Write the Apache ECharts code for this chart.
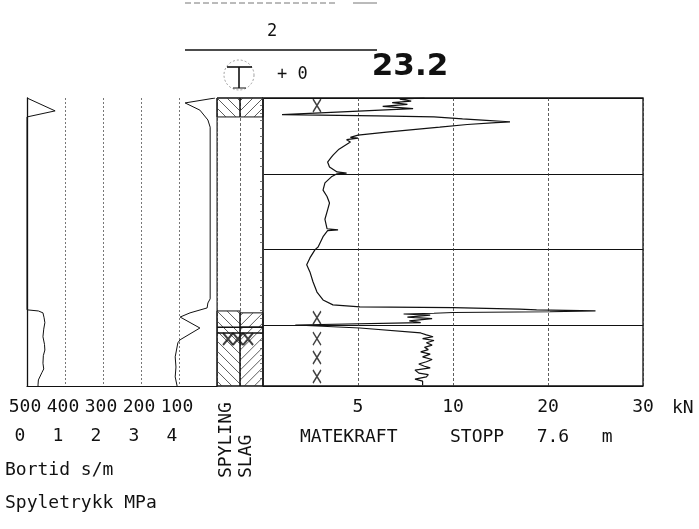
<!DOCTYPE html>
<html><head><meta charset="utf-8">
<script src="https://cdn.jsdelivr.net/npm/echarts@6/dist/echarts.min.js"></script>
<style>html,body{margin:0;padding:0;background:#fff}#c{width:699px;height:529px}</style>
</head><body><div id="c"></div>
<script>
// ---------- data ----------
const depthMax = 7.6;
const forceDepth = [0,0.03,0.08,0.12,0.17,0.22,0.28,0.32,0.44,0.47,0.5,0.55,0.59,0.62,0.63,0.65,0.7,0.77,0.9,0.98,1.04,1.06,1.1,1.16,1.35,1.5,1.56,1.69,1.82,1.95,1.98,2.0,2.08,2.24,2.43,2.6,2.77,2.95,3.2,3.45,3.48,3.5,3.66,3.93,4.0,4.22,4.4,4.59,4.85,5.12,5.33,5.46,5.51,5.53,5.57,5.59,5.62,5.64,5.66,5.68,5.7,5.73,5.78,5.82,5.88,5.93,5.99,6.07,6.2,6.25,6.3,6.35,6.4,6.46,6.52,6.58,6.64,6.7,6.76,6.83,6.9,6.96,7.02,7.08,7.12,7.18,7.26,7.3,7.36,7.42,7.47,7.52,7.58];
const forceKN =    [8.5,7.2,7.8,6.8,7.6,6.3,7.9,7.8,1.0,6.0,9.0,11,13.5,15.5,16,14.5,11.5,9.3,6.5,5.0,4.6,5.0,4.4,4.6,4.0,3.7,3.6,3.4,3.5,3.9,4.4,3.9,3.6,3.26,3.16,3.37,3.5,3.4,3.26,3.37,3.95,3.4,3.16,2.9,2.74,2.47,2.3,2.47,2.63,2.84,3.16,3.68,5.1,10,17,18.8,25,20.2,10,9.0,7.4,8.8,7.6,8.9,7.7,8.3,1.7,5.1,8.3,8.6,8.95,8.4,9.0,8.6,8.9,8.5,8.7,8.3,8.8,8.4,8.9,8.6,8.2,8.5,8.8,8.0,8.2,8.7,8.6,8.0,8.4,8.3,8.4];
const bortidDepth = [0,0.13,0.32,0.58,0.77,5.3,5.41,5.54,5.67,5.78,6.07,6.38,6.46,6.83,7.1,7.36,7.6];
const bortidSec =   [5,84,45,24,18,18,24,26,71,97,45,97,103,110,108,110,105];
const pressDepth = [0,0.34,0.5,5.59,5.62,5.67,5.8,5.93,6.1,6.3,6.5,6.65,6.8,7.0,7.15,7.25,7.44,7.57,7.6];
const pressMPa =   [0,0.74,0,0,0.3,0.42,0.45,0.47,0.44,0.42,0.46,0.47,0.43,0.42,0.44,0.39,0.3,0.29,0.29];
const markDepth = [0.2, 5.8, 6.35, 6.85, 7.35];
const markForce = 2.84;
const rotDepth = 6.36;
const rotCols = [0.48, 0.91, 1.35];
const spylingIntervals = [[0,0.5],[5.62,7.6]];
const slagIntervals = [[0,0.5],[5.67,6.05],[6.05,7.6]];
const rotBand = [6.2, 7.6];
const forceTicks = [0,5,10,20,30];
const bortidTicks = [500,400,300,200,100];
const pressTicks = [0,1,2,3,4];
const stopDepth = '7.6';

// ---------- helpers ----------
function fx(f){
  for(let i=0;i<forceTicks.length-1;i++){
    if(f<=forceTicks[i+1]) return i+(f-forceTicks[i])/(forceTicks[i+1]-forceTicks[i]);
  }
  return forceTicks.length-1;
}
const MONO = '"DejaVu Sans Mono", monospace';
const INK = '#111';
const FS = 18;
const lbl = {fontFamily:MONO,fontSize:FS,color:INK};

const chart = echarts.init(document.getElementById('c'),null,{renderer:'canvas'});

const hatchData = [];
spylingIntervals.forEach(iv=>hatchData.push([0,iv[0],iv[1],-1]));
slagIntervals.forEach(iv=>hatchData.push([1,iv[0],iv[1],1]));

function hatchItem(params, api){
  const col=api.value(0), d0=api.value(1), d1=api.value(2), dir=api.value(3);
  const p0=api.coord([col,d0]), p1=api.coord([col+1,d1]);
  const x0=p0[0], y0=p0[1], x1=p1[0], y1=p1[1];
  const ch=[{type:'rect',shape:{x:x0,y:y0,width:x1-x0,height:y1-y0},style:{fill:null,stroke:INK,lineWidth:1}}];
  const s=10;
  if(dir<0){
    const cStart=y0-x0;
    for(let c=cStart-Math.ceil((x1-x0)/s)*s;c<=y1-x0;c+=s){
      const xa=Math.max(x0,y0-c), xb=Math.min(x1,y1-c);
      if(xb-xa>0.5) ch.push({type:'line',shape:{x1:xa,y1:xa+c,x2:xb,y2:xb+c},style:{stroke:'#333',lineWidth:0.8}});
    }
  } else {
    const cStart=x1+y0;
    for(let c=cStart-Math.ceil((x1-x0)/s)*s;c<=x1+y1;c+=s){
      const xa=Math.max(x0,c-y1), xb=Math.min(x1,c-y0);
      if(xb-xa>0.5) ch.push({type:'line',shape:{x1:xa,y1:c-xa,x2:xb,y2:c-xb},style:{stroke:'#333',lineWidth:0.8}});
    }
  }
  return {type:'group',children:ch};
}

function bandItem(params, api){
  const p0=api.coord([0,api.value(0)]);
  const p1=api.coord([2,api.value(0)]);
  return {type:'line',shape:{x1:p0[0],y1:p0[1],x2:p1[0],y2:p1[1]},style:{stroke:INK,lineWidth:1.4}};
}

const yBase = {type:'value',min:0,max:depthMax,inverse:true,axisLabel:{show:false},axisTick:{show:false},splitLine:{show:false}};
const X_PATH = 'path://M0,0L10,14M10,0L0,14';

const option = {
  animation:false,
  backgroundColor:'#fff',
  grid:[
    {left:27,top:98,width:190,height:288,show:false},
    {left:217,top:98,width:46,height:288,show:true,borderColor:INK,borderWidth:1},
    {left:263,top:98,width:380,height:288,show:true,borderColor:INK,borderWidth:1.3}
  ],
  xAxis:[
    {gridIndex:0,type:'value',min:0,max:500,interval:100,inverse:true,position:'bottom',
     axisLine:{show:true,onZero:false,lineStyle:{color:INK,width:1.2}},axisTick:{show:false},
     axisLabel:Object.assign({margin:12,padding:[0,4,0,0],formatter:v=>bortidTicks.includes(v)?String(v):''},lbl),
     splitLine:{show:true,lineStyle:{color:'#555',width:0.8,type:[2,2]}}},
    {gridIndex:0,type:'value',min:0,max:5,interval:1,position:'bottom',offset:29,
     axisLine:{show:false,onZero:false},axisTick:{show:false},
     axisLabel:Object.assign({margin:12,padding:[0,14,0,0],formatter:v=>pressTicks.includes(v)?String(v):''},lbl),
     splitLine:{show:false}},
    {gridIndex:1,type:'value',min:0,max:2,interval:1,
     axisLine:{show:false,onZero:false},axisTick:{show:false},axisLabel:{show:false},
     splitLine:{show:true,lineStyle:{color:'#444',width:0.8,type:[3,2]}}},
    {gridIndex:2,type:'value',min:0,max:forceTicks.length-1,interval:1,position:'bottom',
     axisLine:{show:false,onZero:false},axisTick:{show:false},
     axisLabel:Object.assign({margin:12,formatter:v=>v>0?String(forceTicks[Math.round(v)]):''},lbl),
     splitLine:{show:true,lineStyle:{color:'#333',width:0.8,type:[3,2]}}}
  ],
  yAxis:[
    Object.assign({},yBase,{gridIndex:0,axisLine:{show:true,onZero:false,lineStyle:{color:INK,width:1.3}}}),
    Object.assign({},yBase,{gridIndex:1,axisLine:{show:false,onZero:false}}),
    Object.assign({},yBase,{gridIndex:2,interval:2,axisLine:{show:false,onZero:false},
      axisTick:{show:false},minorTick:{show:true,splitNumber:10,length:3,lineStyle:{color:'#555',width:0.8}},
      splitLine:{show:true,lineStyle:{color:INK,width:1.2}}})
  ],
  series:[
    {type:'custom',xAxisIndex:2,yAxisIndex:1,renderItem:hatchItem,data:hatchData,silent:true,z:2},
    {type:'custom',xAxisIndex:2,yAxisIndex:1,renderItem:bandItem,data:[[rotBand[0]],[6.05]],silent:true,z:3},
    {type:'scatter',xAxisIndex:2,yAxisIndex:1,symbol:X_PATH,symbolSize:[10,12],
     itemStyle:{color:'transparent',borderColor:INK,borderWidth:2.2},
     data:rotCols.map(c=>[c,rotDepth]),z:4},
    {type:'line',xAxisIndex:0,yAxisIndex:0,symbol:'none',lineStyle:{color:INK,width:1},
     data:bortidSec.map((v,i)=>[v,bortidDepth[i]]),z:5},
    {type:'line',xAxisIndex:1,yAxisIndex:0,symbol:'none',lineStyle:{color:INK,width:1},
     data:pressMPa.map((v,i)=>[v,pressDepth[i]]),z:5},
    {type:'line',xAxisIndex:3,yAxisIndex:2,symbol:'none',lineStyle:{color:INK,width:1.2},
     data:forceKN.map((f,i)=>[fx(f),forceDepth[i]]),z:5},
    {type:'scatter',xAxisIndex:3,yAxisIndex:2,symbol:X_PATH,symbolSize:[8,13],
     itemStyle:{color:'transparent',borderColor:INK,borderWidth:1.6},
     data:markDepth.map(d=>[fx(markForce),d]),z:6}
  ],
  graphic:[
    {type:'line',shape:{x1:185,y1:3,x2:337,y2:3},style:{stroke:'#777',lineWidth:1,lineDash:[6,3]}},
    {type:'line',shape:{x1:353,y1:3,x2:377,y2:3},style:{stroke:'#777',lineWidth:1}},
    {type:'text',x:272,y:32,style:{text:'2',font:'17px '+MONO,fill:INK,align:'center',verticalAlign:'middle'}},
    {type:'line',shape:{x1:185,y1:50,x2:377,y2:50},style:{stroke:INK,lineWidth:1.5}},
    {type:'circle',shape:{cx:239,cy:75,r:15},style:{fill:null,stroke:'#888',lineWidth:0.8,lineDash:[2,2]}},
    {type:'line',shape:{x1:227,y1:67,x2:252,y2:67},style:{stroke:INK,lineWidth:1.6}},
    {type:'line',shape:{x1:239,y1:67,x2:239,y2:88},style:{stroke:INK,lineWidth:1.6}},
    {type:'line',shape:{x1:233,y1:88,x2:246,y2:88},style:{stroke:INK,lineWidth:1}},
    {type:'text',x:277,y:75,style:{text:'+ 0',font:'17px '+MONO,fill:INK,align:'left',verticalAlign:'middle'}},
    {type:'text',x:410,y:67,style:{text:'23.2',font:'bold 31px "DejaVu Sans"',fill:INK,align:'center',verticalAlign:'middle'}},
    {type:'text',x:672,y:408,style:{text:'kN',font:FS+'px '+MONO,fill:INK,align:'left',verticalAlign:'middle'}},
    {type:'text',x:300,y:437,style:{text:'MATEKRAFT',font:FS+'px '+MONO,fill:INK,align:'left',verticalAlign:'middle'}},
    {type:'text',x:450,y:437,style:{text:'STOPP   '+stopDepth+'   m',font:FS+'px '+MONO,fill:INK,align:'left',verticalAlign:'middle'}},
    {type:'text',x:5,y:470,style:{text:'Bortid s/m',font:FS+'px '+MONO,fill:INK,align:'left',verticalAlign:'middle'}},
    {type:'text',x:5,y:503,style:{text:'Spyletrykk MPa',font:FS+'px '+MONO,fill:INK,align:'left',verticalAlign:'middle'}},
    {type:'text',x:226,y:478,rotation:Math.PI/2,style:{text:'SPYLING',font:'18px '+MONO,fill:INK,align:'left',verticalAlign:'middle'}},
    {type:'text',x:246,y:478,rotation:Math.PI/2,style:{text:'SLAG',font:'18px '+MONO,fill:INK,align:'left',verticalAlign:'middle'}}
  ]
};
chart.setOption(option);
</script></body></html>
